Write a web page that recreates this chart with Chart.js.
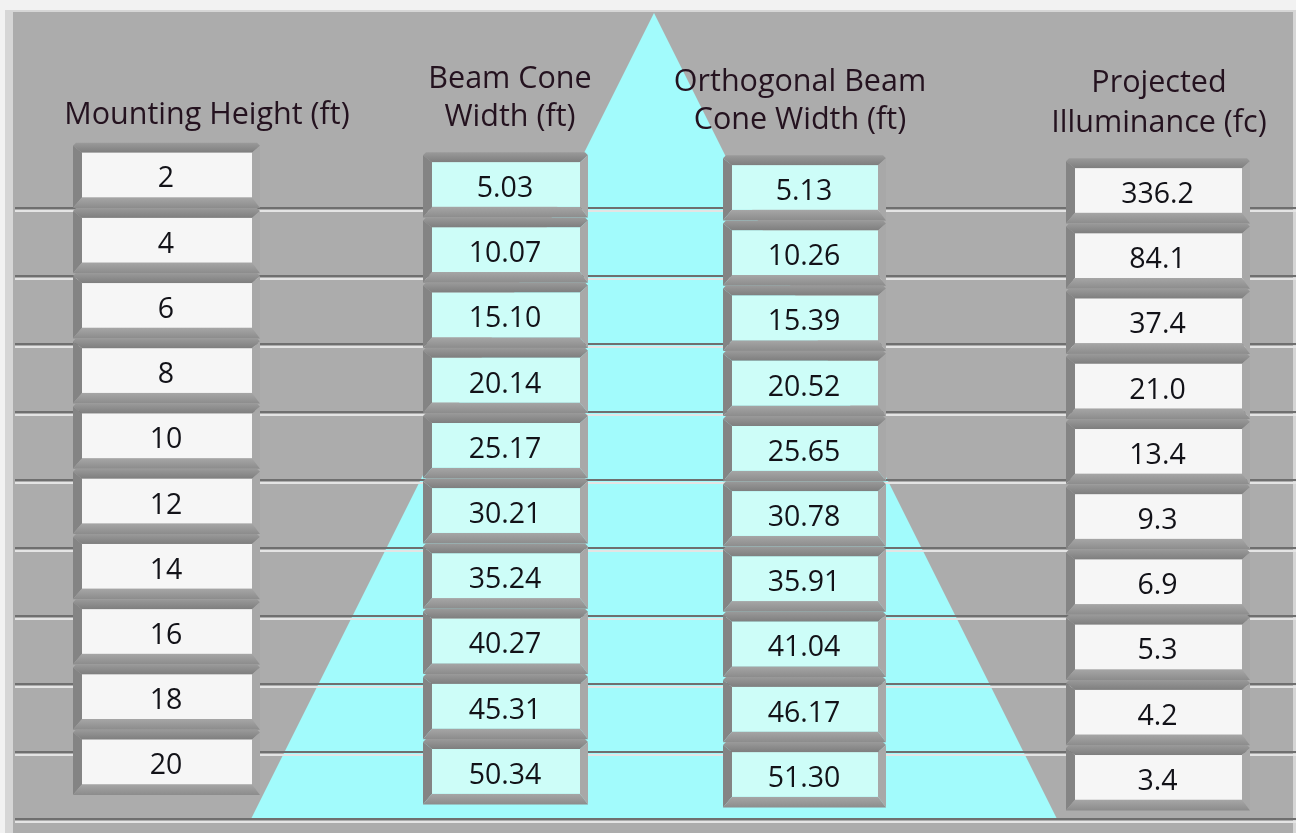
<!DOCTYPE html>
<html>
<head>
<meta charset="utf-8">
<title>Beam cone calculator</title>
<script src="https://cdn.jsdelivr.net/npm/chart.js@4.4.0/dist/chart.umd.min.js"></script>
<style>
  html, body { margin: 0; padding: 0; background: #f0f0f0; }
  #wrap { width: 1296px; height: 833px; }
</style>
</head>
<body>
<div id="wrap"><canvas id="calc" width="1296" height="833"></canvas></div>
<script>
// table values
const mountingHeights = [2, 4, 6, 8, 10, 12, 14, 16, 18, 20];
const beamConeWidths = [5.03, 10.07, 15.10, 20.14, 25.17, 30.21, 35.24, 40.27, 45.31, 50.34];
const orthoConeWidths = [5.13, 10.26, 15.39, 20.52, 25.65, 30.78, 35.91, 41.04, 46.17, 51.30];
const illuminance = [336.2, 84.1, 37.4, 21.0, 13.4, 9.3, 6.9, 5.3, 4.2, 3.4];
const columnTitles = [
  ['Mounting Height (ft)'],
  ['Beam Cone', 'Width (ft)'],
  ['Orthogonal Beam', 'Cone Width (ft)'],
  ['Projected', 'Illuminance (fc)']
];
const columnValues = [mountingHeights, beamConeWidths, orthoConeWidths, illuminance];
const columnDecimals = [0, 2, 2, 1];

// layout only (pixels)
const columnLayout = [
  { left: 82, right: 252, dy: 0, fill: '#f6f6f6', titleX: 207, titleY: [124] },
  { left: 432, right: 580, dy: 9.5, fill: '#cdfdf8', titleX: 510, titleY: [88, 126] },
  { left: 732, right: 878, dy: 12.5, fill: '#cdfdf8', titleX: 800, titleY: [91, 129] },
  { left: 1075, right: 1242, dy: 15.5, fill: '#f6f6f6', titleX: 1159, titleY: [92, 132] }
];
const panelGrey = '#acacac';
const coneCyan = '#a2fbfc';
const rowLineTop = 208.3;
const rowLinePitch = 67.9;
const cone = { apexX: 654, apexY: 13, baseY: 818, halfSlope: 0.5 };
const FONT = '"Open Sans", "Noto Sans", sans-serif';

// background: panel, cone, row grooves
const panelPlugin = {
  id: 'panel',
  beforeDatasetsDraw(chart) {
    const ctx = chart.ctx;
    const W = chart.width, H = chart.height;
    ctx.save();
    ctx.fillStyle = '#f2f2f2';
    ctx.fillRect(0, 0, W, H);
    ctx.fillStyle = '#d6d6d6';
    ctx.fillRect(5, 10, W - 5, H - 10);
    ctx.fillStyle = panelGrey;
    ctx.fillRect(13, 12, W - 16, H - 12);

    // cone
    const hw = (cone.baseY - cone.apexY) * cone.halfSlope;
    ctx.fillStyle = coneCyan;
    ctx.beginPath();
    ctx.moveTo(cone.apexX, cone.apexY);
    ctx.lineTo(cone.apexX + hw, cone.baseY);
    ctx.lineTo(cone.apexX - hw, cone.baseY);
    ctx.closePath();
    ctx.fill();

    // grooves under every row
    mountingHeights.forEach((h, i) => {
      const y = Math.round(rowLineTop + i * rowLinePitch);
      ctx.fillStyle = '#6f6f6f';
      ctx.fillRect(15, y - 1, W - 15, 2);
      ctx.fillStyle = '#e4e4e4';
      ctx.fillRect(15, y + 2, W - 15, 2);
    });
    ctx.restore();
  }
};

function drawFrame(ctx, x0, y0, x1, y1) {
  const bl = 9, br = 8, bt = 10, bb = 10.7;
  const top = ctx.createLinearGradient(0, y0, 0, y0 + bt);
  top.addColorStop(0, '#9a9a9a');
  top.addColorStop(1, '#7e7e7e');
  ctx.fillStyle = top;
  ctx.beginPath();
  ctx.moveTo(x0 + 3, y0); ctx.lineTo(x1 - 3, y0); ctx.lineTo(x1, y0 + 3); ctx.lineTo(x1 - br, y0 + bt); ctx.lineTo(x0 + bl, y0 + bt); ctx.lineTo(x0, y0 + 3);
  ctx.closePath(); ctx.fill();

  ctx.fillStyle = '#848484';
  ctx.beginPath();
  ctx.moveTo(x0, y0 + 3); ctx.lineTo(x0 + bl, y0 + bt); ctx.lineTo(x0 + bl, y1 - bb); ctx.lineTo(x0, y1);
  ctx.closePath(); ctx.fill();

  ctx.fillStyle = '#a8a8a8';
  ctx.beginPath();
  ctx.moveTo(x1, y0 + 3); ctx.lineTo(x1, y1); ctx.lineTo(x1 - br, y1 - bb); ctx.lineTo(x1 - br, y0 + bt);
  ctx.closePath(); ctx.fill();

  const bot = ctx.createLinearGradient(0, y1 - bb, 0, y1);
  bot.addColorStop(0, '#a6a6a6');
  bot.addColorStop(1, '#8c8c8c');
  ctx.fillStyle = bot;
  ctx.beginPath();
  ctx.moveTo(x0, y1); ctx.lineTo(x0 + bl, y1 - bb); ctx.lineTo(x1 - br, y1 - bb); ctx.lineTo(x1, y1);
  ctx.closePath(); ctx.fill();
}

// value boxes, placed on the points of each column dataset
const cellPlugin = {
  id: 'cells',
  afterDatasetsDraw(chart) {
    const ctx = chart.ctx;
    ctx.save();
    chart.data.datasets.forEach((ds, c) => {
      const lay = columnLayout[c];
      const meta = chart.getDatasetMeta(c);
      meta.data.forEach((pt, i) => {
        const cy = pt.y + lay.dy;
        drawFrame(ctx, lay.left - 9, cy - 22.3 - 10, lay.right + 8, cy + 22.3 + 10.7);
        ctx.fillStyle = lay.fill;
        ctx.fillRect(lay.left, cy - 22.3, lay.right - lay.left, 44.6);
        ctx.fillStyle = '#121218';
        ctx.font = '28.5px ' + FONT;
        ctx.textAlign = 'center';
        ctx.textBaseline = 'alphabetic';
        ctx.fillText(columnValues[c][i].toFixed(columnDecimals[c]), pt.x - 1, cy + 12.5);
      });
      ctx.fillStyle = '#24121f';
      ctx.font = '30.5px ' + FONT;
      ctx.textAlign = 'center';
      columnTitles[c].forEach((line, k) => {
        ctx.fillText(line, lay.titleX, lay.titleY[k]);
      });
    });
    ctx.restore();
  }
};

const datasets = columnValues.map((vals, c) => ({
  label: columnTitles[c].join(' '),
  data: mountingHeights.map(h => ({ x: (columnLayout[c].left + columnLayout[c].right) / 2, y: h })),
  pointRadius: 0,
  showLine: false
}));

new Chart(document.getElementById('calc'), {
  type: 'scatter',
  data: { datasets: datasets },
  options: {
    responsive: false,
    animation: false,
    devicePixelRatio: 1,
    layout: { padding: 0 },
    plugins: { legend: { display: false }, tooltip: { enabled: false } },
    scales: {
      x: { type: 'linear', min: 0, max: 1296, display: false },
      // mounting height axis: 2 ft row at y=175, 20 ft row at y=762
      y: { type: 'linear', min: -3.366, max: 22.18, reverse: true, display: false }
    }
  },
  plugins: [panelPlugin, cellPlugin]
});
</script>
</body>
</html>
